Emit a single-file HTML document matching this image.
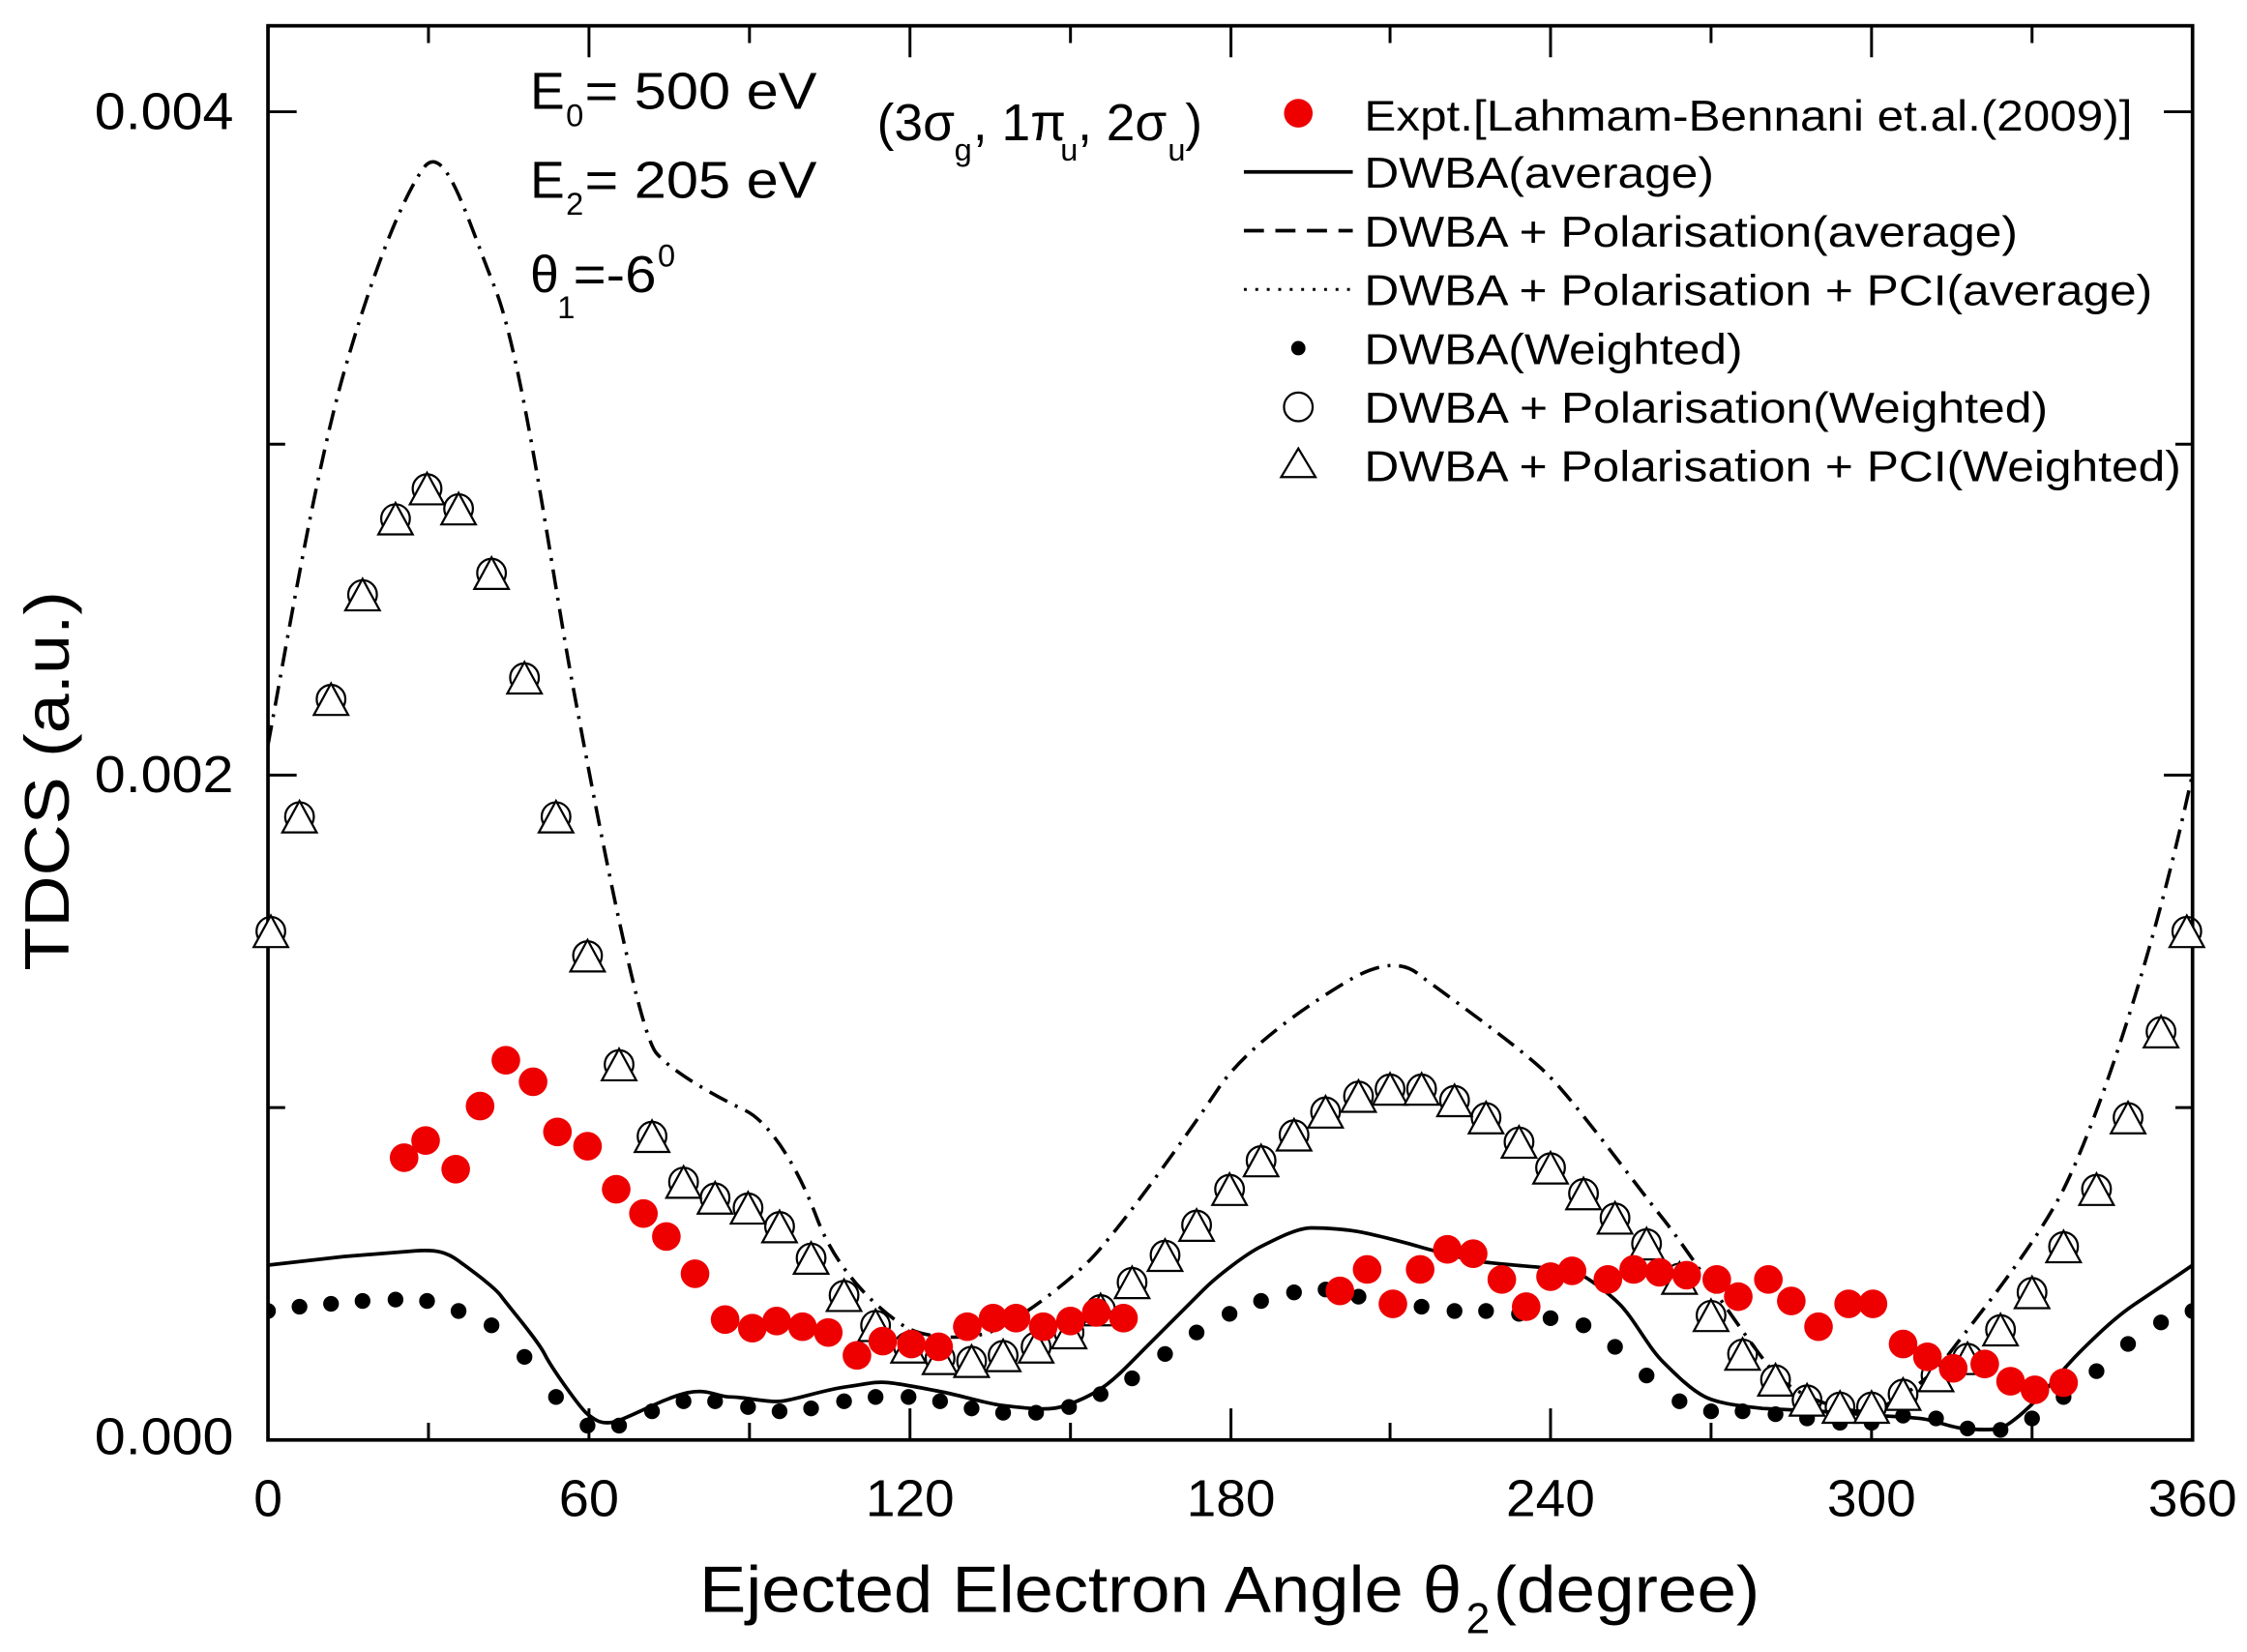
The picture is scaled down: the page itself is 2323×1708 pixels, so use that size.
<!DOCTYPE html>
<html><head><meta charset="utf-8"><style>
html,body{margin:0;padding:0;background:#fff;}
svg{display:block;}
text{font-family:"Liberation Sans",sans-serif;fill:#000;}
</style></head><body>
<svg width="2323" height="1708" viewBox="0 0 1568 1153" preserveAspectRatio="none" xmlns="http://www.w3.org/2000/svg" xmlns:xlink="http://www.w3.org/1999/xlink">
<defs>
<clipPath id="c"><rect x="187" y="18" width="1343" height="987"/></clipPath>
<g id="m"><circle cx="0" cy="0" r="10" fill="none" stroke="#000" stroke-width="1.5"/><path d="M-12 11L0 -11L12 11Z" fill="#fff" stroke="#000" stroke-width="1.5"/></g>
<circle id="r" cx="0" cy="0" r="10" fill="#e00"/>
</defs>
<rect width="1568" height="1153" fill="#fff"/>
<rect x="187" y="18" width="1343" height="987" fill="none" stroke="#000" stroke-width="2.5"/>
<g stroke="#000" stroke-width="2">
<path d="M411 1005v-22M635 1005v-22M859 1005v-22M1082 1005v-22M1306 1005v-22"/>
<path d="M299 1005v-12M523 1005v-12M747 1005v-12M970 1005v-12M1194 1005v-12M1418 1005v-12"/>
<path d="M411 18v22M635 18v22M859 18v22M1082 18v22M1306 18v22"/>
<path d="M299 18v12M523 18v12M747 18v12M970 18v12M1194 18v12M1418 18v12"/>
<path d="M187 541h20M187 78h20M1530 541h-20M1530 78h-20"/>
<path d="M187 773h12M187 310h12M1530 773h-12M1530 310h-12"/>
</g>
<g font-size="36">
<text x="163" y="90" text-anchor="end" textLength="97" lengthAdjust="spacingAndGlyphs">0.004</text>
<text x="163" y="553" text-anchor="end" textLength="97" lengthAdjust="spacingAndGlyphs">0.002</text>
<text x="163" y="1015" text-anchor="end" textLength="97" lengthAdjust="spacingAndGlyphs">0.000</text>
<text x="187" y="1058" text-anchor="middle">0</text>
<text x="411" y="1058" text-anchor="middle" textLength="42" lengthAdjust="spacingAndGlyphs">60</text>
<text x="635" y="1058" text-anchor="middle" textLength="62" lengthAdjust="spacingAndGlyphs">120</text>
<text x="859" y="1058" text-anchor="middle" textLength="62" lengthAdjust="spacingAndGlyphs">180</text>
<text x="1082" y="1058" text-anchor="middle" textLength="62" lengthAdjust="spacingAndGlyphs">240</text>
<text x="1306" y="1058" text-anchor="middle" textLength="62" lengthAdjust="spacingAndGlyphs">300</text>
<text x="1530" y="1058" text-anchor="middle" textLength="62" lengthAdjust="spacingAndGlyphs">360</text>
</g>
<text x="488" y="1125" font-size="46" textLength="532" lengthAdjust="spacingAndGlyphs">Ejected Electron Angle θ</text>
<text x="1023" y="1140" font-size="30">2</text>
<text x="1042" y="1125" font-size="46" textLength="186" lengthAdjust="spacingAndGlyphs">(degree)</text>
<text transform="translate(48,545) rotate(-90)" font-size="44" text-anchor="middle" textLength="265" lengthAdjust="spacingAndGlyphs">TDCS (a.u.)</text>
<g font-size="36">
<text x="370" y="76">E</text><text x="395" y="88" font-size="22">0</text><text x="408" y="76" textLength="162" lengthAdjust="spacingAndGlyphs">= 500 eV</text>
<text x="370" y="138">E</text><text x="395" y="150" font-size="22">2</text><text x="408" y="138" textLength="162" lengthAdjust="spacingAndGlyphs">= 205 eV</text>
<text x="370" y="204">θ</text><text x="389" y="222" font-size="22">1</text><text x="400" y="204" textLength="58" lengthAdjust="spacingAndGlyphs">=-6</text><text x="459" y="186" font-size="22">0</text>
<text x="612" y="98">(3σ</text><text x="666" y="112" font-size="22">g</text><text x="679" y="98">, 1π</text><text x="740" y="112" font-size="22">u</text><text x="752" y="98">, 2σ</text><text x="815" y="112" font-size="22">u</text><text x="827" y="98">)</text>
</g>
<g font-size="30">
<text x="952" y="91" textLength="536" lengthAdjust="spacingAndGlyphs">Expt.[Lahmam-Bennani et.al.(2009)]</text>
<text x="952" y="131" textLength="244" lengthAdjust="spacingAndGlyphs">DWBA(average)</text>
<text x="952" y="172" textLength="456" lengthAdjust="spacingAndGlyphs">DWBA + Polarisation(average)</text>
<text x="952" y="213" textLength="550" lengthAdjust="spacingAndGlyphs">DWBA + Polarisation + PCI(average)</text>
<text x="952" y="254" textLength="264" lengthAdjust="spacingAndGlyphs">DWBA(Weighted)</text>
<text x="952" y="295" textLength="477" lengthAdjust="spacingAndGlyphs">DWBA + Polarisation(Weighted)</text>
<text x="952" y="336" textLength="570" lengthAdjust="spacingAndGlyphs">DWBA + Polarisation + PCI(Weighted)</text>
</g>
<circle cx="906" cy="79" r="10" fill="#e00"/>
<path d="M868 120h76" stroke="#000" stroke-width="2.5"/>
<path d="M868 161h76" stroke="#000" stroke-width="2.5" stroke-dasharray="14,8"/>
<path d="M868 202h76" stroke="#000" stroke-width="2" stroke-dasharray="2,6"/>
<circle cx="906" cy="243" r="5" fill="#000"/>
<circle cx="906" cy="284" r="10" fill="#fff" stroke="#000" stroke-width="1.5"/>
<path d="M894 333L906 313L918 333Z" fill="#fff" stroke="#000" stroke-width="1.5"/>
<g clip-path="url(#c)">
<path d="M187 520 C200 450 220 330 240 260 S280 140 295 118 S325 150 345 200 S385 400 400 480 S445 720 458 735 S505 768 520 775 S555 810 570 850 S615 915 630 925 S675 935 690 930 S740 900 760 880 S830 790 850 760 S915 700 940 685 S980 672 990 680 S1060 730 1080 750 S1140 825 1160 850 S1225 945 1240 960 S1285 985 1300 985 S1345 965 1360 945 S1420 870 1440 830 S1500 680 1530 540" fill="none" stroke="#000" stroke-width="2.4" stroke-dasharray="14,6,2,6"/>
<path d="M187 883 L240 877 L290 873 C305 872 312 874 320 880 S345 898 350 905 S375 935 380 945 S405 983 410 987 S420 995 430 992 S465 975 480 972 S500 975 510 975 S535 979 545 978 S575 970 590 968 S610 964 620 965 S650 970 660 972 S690 980 700 981 S730 985 740 982 S760 975 770 968 S790 950 800 940 S830 910 840 900 S870 875 880 870 S905 857 915 857 S940 858 950 860 S980 867 990 870 S1020 878 1030 880 S1070 884 1080 885 S1095 886 1100 888 S1120 900 1130 910 S1150 940 1160 950 S1180 970 1190 975 S1220 982 1230 983 L1270 985 L1310 988 S1330 989 1340 990 S1360 996 1370 997 S1390 998 1395 997 S1410 988 1420 978 S1440 955 1450 945 S1475 920 1490 910 S1520 890 1530 883" fill="none" stroke="#000" stroke-width="2.5"/>
<g fill="#000">
<circle cx="187" cy="915" r="5.5"/><circle cx="209" cy="912" r="5.5"/><circle cx="231" cy="910" r="5.5"/><circle cx="253" cy="908" r="5.5"/><circle cx="276" cy="907" r="5.5"/><circle cx="298" cy="908" r="5.5"/><circle cx="320" cy="915" r="5.5"/><circle cx="343" cy="925" r="5.5"/><circle cx="366" cy="947" r="5.5"/><circle cx="388" cy="975" r="5.5"/><circle cx="410" cy="995" r="5.5"/><circle cx="432" cy="995" r="5.5"/><circle cx="455" cy="985" r="5.5"/><circle cx="477" cy="978" r="5.5"/><circle cx="499" cy="978" r="5.5"/><circle cx="522" cy="982" r="5.5"/><circle cx="544" cy="985" r="5.5"/><circle cx="566" cy="983" r="5.5"/><circle cx="589" cy="978" r="5.5"/><circle cx="611" cy="975" r="5.5"/><circle cx="634" cy="975" r="5.5"/><circle cx="656" cy="978" r="5.5"/><circle cx="678" cy="983" r="5.5"/><circle cx="700" cy="986" r="5.5"/><circle cx="723" cy="986" r="5.5"/><circle cx="746" cy="982" r="5.5"/><circle cx="768" cy="973" r="5.5"/><circle cx="790" cy="962" r="5.5"/><circle cx="813" cy="945" r="5.5"/><circle cx="835" cy="930" r="5.5"/><circle cx="858" cy="917" r="5.5"/><circle cx="880" cy="908" r="5.5"/><circle cx="903" cy="902" r="5.5"/><circle cx="925" cy="900" r="5.5"/><circle cx="948" cy="905" r="5.5"/><circle cx="970" cy="908" r="5.5"/><circle cx="992" cy="912" r="5.5"/><circle cx="1015" cy="915" r="5.5"/><circle cx="1037" cy="915" r="5.5"/><circle cx="1060" cy="917" r="5.5"/><circle cx="1082" cy="920" r="5.5"/><circle cx="1105" cy="925" r="5.5"/><circle cx="1127" cy="940" r="5.5"/><circle cx="1149" cy="960" r="5.5"/><circle cx="1172" cy="978" r="5.5"/><circle cx="1194" cy="985" r="5.5"/><circle cx="1216" cy="985" r="5.5"/><circle cx="1239" cy="987" r="5.5"/><circle cx="1261" cy="990" r="5.5"/><circle cx="1284" cy="993" r="5.5"/><circle cx="1306" cy="993" r="5.5"/><circle cx="1328" cy="988" r="5.5"/><circle cx="1351" cy="990" r="5.5"/><circle cx="1373" cy="997" r="5.5"/><circle cx="1396" cy="998" r="5.5"/><circle cx="1418" cy="990" r="5.5"/><circle cx="1440" cy="975" r="5.5"/><circle cx="1463" cy="957" r="5.5"/><circle cx="1485" cy="938" r="5.5"/><circle cx="1508" cy="923" r="5.5"/><circle cx="1530" cy="915" r="5.5"/>
</g>
</g>
<g>
<use xlink:href="#m" x="189" y="650"/><use xlink:href="#m" x="209" y="570"/><use xlink:href="#m" x="231" y="488"/><use xlink:href="#m" x="253" y="415"/><use xlink:href="#m" x="276" y="362"/><use xlink:href="#m" x="298" y="341"/><use xlink:href="#m" x="320" y="355"/><use xlink:href="#m" x="343" y="400"/><use xlink:href="#m" x="366" y="473"/><use xlink:href="#m" x="388" y="570"/><use xlink:href="#m" x="410" y="667"/><use xlink:href="#m" x="432" y="743"/><use xlink:href="#m" x="455" y="793"/><use xlink:href="#m" x="477" y="825"/><use xlink:href="#m" x="499" y="836"/><use xlink:href="#m" x="522" y="843"/><use xlink:href="#m" x="544" y="856"/><use xlink:href="#m" x="566" y="878"/><use xlink:href="#m" x="589" y="904"/><use xlink:href="#m" x="611" y="925"/><use xlink:href="#m" x="634" y="940"/><use xlink:href="#m" x="656" y="948"/><use xlink:href="#m" x="678" y="950"/><use xlink:href="#m" x="700" y="946"/><use xlink:href="#m" x="723" y="940"/><use xlink:href="#m" x="746" y="930"/><use xlink:href="#m" x="768" y="914"/><use xlink:href="#m" x="790" y="895"/><use xlink:href="#m" x="813" y="876"/><use xlink:href="#m" x="835" y="855"/><use xlink:href="#m" x="858" y="830"/><use xlink:href="#m" x="880" y="810"/><use xlink:href="#m" x="903" y="792"/><use xlink:href="#m" x="925" y="776"/><use xlink:href="#m" x="948" y="765"/><use xlink:href="#m" x="970" y="760"/><use xlink:href="#m" x="992" y="760"/><use xlink:href="#m" x="1015" y="768"/><use xlink:href="#m" x="1037" y="780"/><use xlink:href="#m" x="1060" y="797"/><use xlink:href="#m" x="1082" y="815"/><use xlink:href="#m" x="1105" y="833"/><use xlink:href="#m" x="1127" y="850"/><use xlink:href="#m" x="1149" y="868"/><use xlink:href="#m" x="1172" y="892"/><use xlink:href="#m" x="1194" y="918"/><use xlink:href="#m" x="1216" y="945"/><use xlink:href="#m" x="1239" y="963"/><use xlink:href="#m" x="1261" y="977"/><use xlink:href="#m" x="1284" y="982"/><use xlink:href="#m" x="1306" y="982"/><use xlink:href="#m" x="1328" y="973"/><use xlink:href="#m" x="1351" y="960"/><use xlink:href="#m" x="1373" y="948"/><use xlink:href="#m" x="1396" y="928"/><use xlink:href="#m" x="1418" y="902"/><use xlink:href="#m" x="1440" y="870"/><use xlink:href="#m" x="1463" y="830"/><use xlink:href="#m" x="1485" y="780"/><use xlink:href="#m" x="1508" y="720"/><use xlink:href="#m" x="1526" y="650"/>
</g>
<g>
<use xlink:href="#r" x="282" y="808"/><use xlink:href="#r" x="297" y="796"/><use xlink:href="#r" x="318" y="816"/><use xlink:href="#r" x="335" y="772"/><use xlink:href="#r" x="353" y="740"/><use xlink:href="#r" x="372" y="755"/><use xlink:href="#r" x="389" y="790"/><use xlink:href="#r" x="410" y="800"/><use xlink:href="#r" x="430" y="830"/><use xlink:href="#r" x="449" y="847"/><use xlink:href="#r" x="465" y="863"/><use xlink:href="#r" x="485" y="889"/><use xlink:href="#r" x="506" y="921"/><use xlink:href="#r" x="525" y="927"/><use xlink:href="#r" x="542" y="922"/><use xlink:href="#r" x="560" y="926"/><use xlink:href="#r" x="578" y="930"/><use xlink:href="#r" x="598" y="946"/><use xlink:href="#r" x="616" y="936"/><use xlink:href="#r" x="636" y="938"/><use xlink:href="#r" x="655" y="940"/><use xlink:href="#r" x="675" y="926"/><use xlink:href="#r" x="693" y="920"/><use xlink:href="#r" x="709" y="920"/><use xlink:href="#r" x="728" y="926"/><use xlink:href="#r" x="747" y="922"/><use xlink:href="#r" x="765" y="916"/><use xlink:href="#r" x="784" y="920"/><use xlink:href="#r" x="935" y="901"/><use xlink:href="#r" x="954" y="886"/><use xlink:href="#r" x="972" y="910"/><use xlink:href="#r" x="991" y="886"/><use xlink:href="#r" x="1010" y="872"/><use xlink:href="#r" x="1028" y="875"/><use xlink:href="#r" x="1048" y="893"/><use xlink:href="#r" x="1065" y="912"/><use xlink:href="#r" x="1082" y="891"/><use xlink:href="#r" x="1097" y="887"/><use xlink:href="#r" x="1122" y="893"/><use xlink:href="#r" x="1140" y="886"/><use xlink:href="#r" x="1158" y="888"/><use xlink:href="#r" x="1177" y="890"/><use xlink:href="#r" x="1198" y="893"/><use xlink:href="#r" x="1213" y="905"/><use xlink:href="#r" x="1234" y="893"/><use xlink:href="#r" x="1250" y="908"/><use xlink:href="#r" x="1269" y="926"/><use xlink:href="#r" x="1290" y="910"/><use xlink:href="#r" x="1307" y="910"/><use xlink:href="#r" x="1328" y="938"/><use xlink:href="#r" x="1345" y="947"/><use xlink:href="#r" x="1363" y="955"/><use xlink:href="#r" x="1385" y="952"/><use xlink:href="#r" x="1403" y="964"/><use xlink:href="#r" x="1420" y="970"/><use xlink:href="#r" x="1440" y="965"/>
</g>
</svg>
</body></html>
